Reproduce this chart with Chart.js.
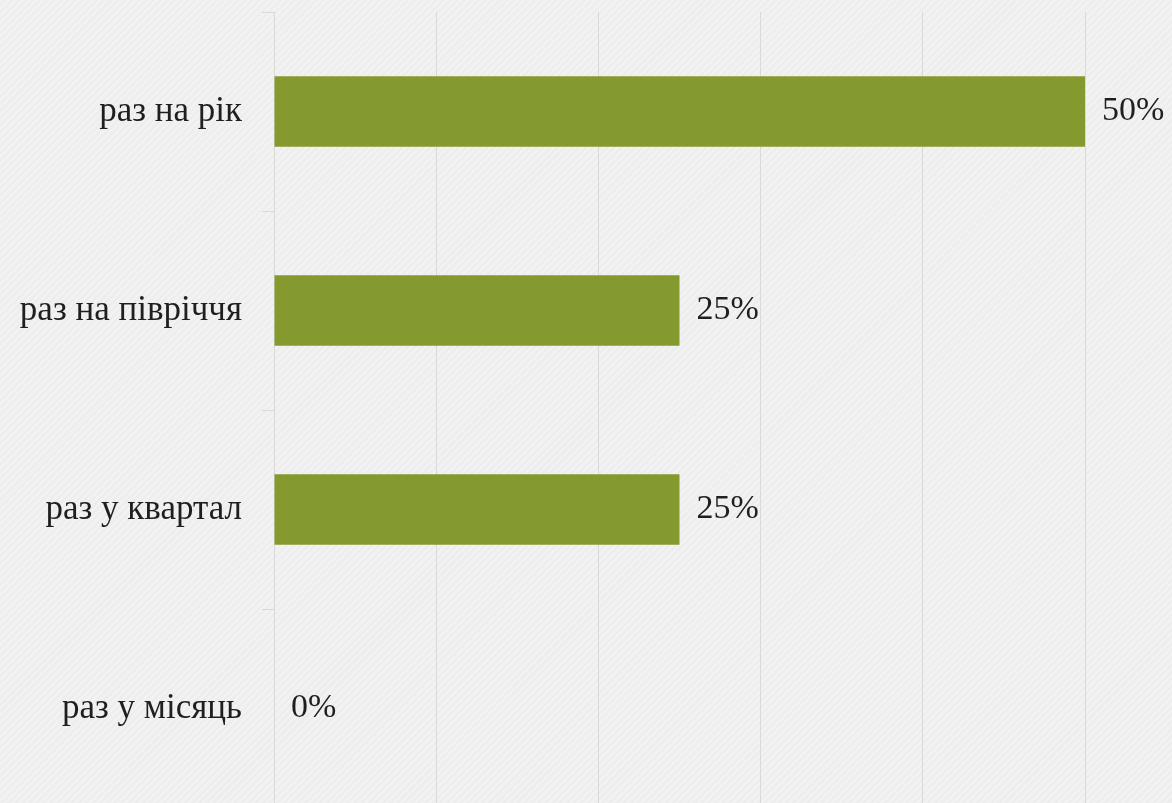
<!DOCTYPE html>
<html>
<head>
<meta charset="utf-8">
<script src="https://cdn.jsdelivr.net/npm/chart.js@4.4.1/dist/chart.umd.min.js"></script>
<style>
  html,body{margin:0;padding:0;overflow:hidden;}
  body{width:1172px;height:803px;
    background:#efefef repeating-linear-gradient(135deg,#f2f2f2 0px,#f2f2f2 2px,#ececec 3px,#efefef 5px);}
  #wrap{width:1172px;height:808px;}
</style>
</head>
<body>
<div id="wrap"><canvas id="chart"></canvas></div>
<script>
// категорії та значення (у відсотках)
const categories = ['раз на рік','раз на півріччя','раз у квартал','раз у місяць'];
const shares = [50, 25, 25, 0];
const xTicks = [0, 10, 20, 30, 40, 50];

const FONT = '"Liberation Serif", "DejaVu Serif", serif';
const lineCol = '#d9d9d9';
const textCol = '#1f1f1f';

// підписи значень праворуч від смуг
const valueLabels = {
  id:'valueLabels',
  afterDatasetsDraw(chart){
    const ctx = chart.ctx;
    const meta = chart.getDatasetMeta(0);
    ctx.save();
    ctx.font = '34px ' + FONT;
    ctx.fillStyle = textCol;
    ctx.textAlign = 'left';
    ctx.textBaseline = 'middle';
    meta.data.forEach((bar,i)=>{
      ctx.fillText(shares[i]+'%', bar.x + 17, bar.y);
    });
    ctx.restore();
  }
};

new Chart(document.getElementById('chart'),{
  type:'bar',
  data:{labels:categories,
    datasets:[{data:shares, backgroundColor:'#849a2e', borderWidth:0,
      categoryPercentage:1, barPercentage:0.355}]},
  options:{indexAxis:'y', responsive:true, maintainAspectRatio:false, animation:false,
    layout:{padding:{top:12, right:87, left:0, bottom:0}},
    plugins:{legend:{display:false}, tooltip:{enabled:false}},
    scales:{
      x:{min:0, max:50, afterBuildTicks:s=>{ s.ticks = xTicks.map(v=>({value:v})); },
        ticks:{display:false},
        grid:{color:lineCol, lineWidth:1, drawTicks:false},
        border:{display:false}},
      y:{afterFit:s=>{ s.width = 274; s.paddingTop = 0; s.paddingBottom = 0; },
        ticks:{color:textCol, font:{family:FONT, size:35}, padding:20},
        grid:{drawOnChartArea:false, color:lineCol, tickLength:12, offset:true},
        border:{color:lineCol}}
    }},
  plugins:[valueLabels]
});
</script>
</body>
</html>
